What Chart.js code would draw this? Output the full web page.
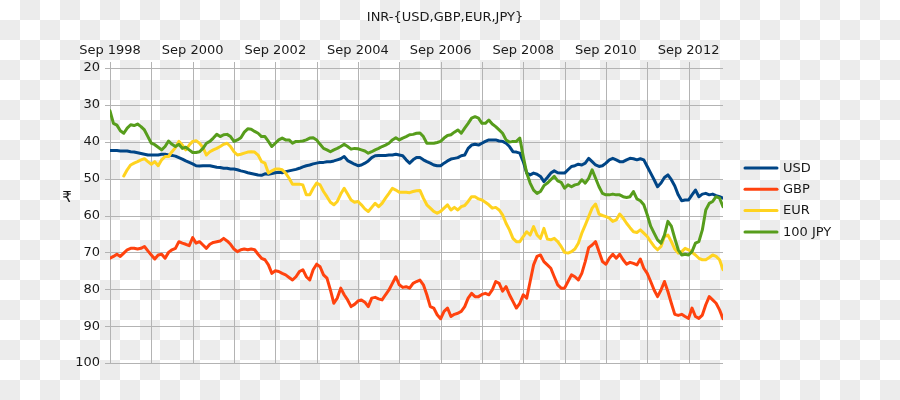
<!DOCTYPE html>
<html><head><meta charset="utf-8">
<script src="https://cdn.jsdelivr.net/npm/chart.js@4"></script>
<style>
html,body{margin:0;padding:0;background:#fff;}
canvas{display:block;}
</style></head><body>
<canvas id="c" width="900" height="400"></canvas>
<script>
const chartTitle = 'INR-{USD,GBP,EUR,JPY}';
const yAxisTitle = '₹';
const seriesNames = ['USD', 'GBP', 'EUR', '100 JPY'];
const seriesColors = ['#004586', '#ff420e', '#ffd320', '#579d1c'];
// x positions are months counted from Sep 1998
const xTickMonths = [0, 12, 24, 36, 48, 60, 72, 84, 96, 108, 120, 132, 144, 156, 168];
const xTickLabels = ['Sep 1998', '', 'Sep 2000', '', 'Sep 2002', '', 'Sep 2004', '', 'Sep 2006', '', 'Sep 2008', '', 'Sep 2010', '', 'Sep 2012'];
const yTicks = [20, 30, 40, 50, 60, 70, 80, 90, 100];

const usd = [
42.4,42.4,42.4,42.5,42.5, 42.5,42.7,42.8,43,43.2, 43.4,43.6,43.6,43.6,43.6, 43.4,43.4,43.6,43.7,43.9,
44.3,44.7,45.2,45.6,46, 46.5,46.6,46.5,46.5,46.5, 46.7,46.9,47,47.2,47.2, 47.4,47.4,47.6,47.9,48.1,
48.4,48.6,48.8,49,49.1, 48.7,48.8,48.6,48.4,48.3, 48.4,48.1,47.9,47.7,47.5, 47.2,46.8,46.5,46.3,46,
45.8,45.6,45.6,45.4,45.4, 45.2,44.9,44.6,44,45.1, 45.6,46.1,46.5,46.3,45.8, 45.2,44.3,43.8,43.7,43.7,
43.7,43.6,43.6,43.4,43.6, 43.8,44.9,45.8,44.9,44.3, 44.3,44.9,45.4,45.8,46.3, 46.5,46.5,45.8,45.2,44.7,
44.5,44.3,43.8,43.6,41.8, 40.9,40.7,40.9,40.4,39.9, 39.5,39.5,39.5,39.8,39.9, 40.4,41.3,42.7,42.8,43.1,
45.4,48.5,49,48.5,48.8, 49.4,50.8,49.7,48.5,47.9, 48.4,48.5,48.5,47.6,46.7, 46.5,46.1,46.3,45.8,44.5,
45.4,46.3,46.7,46.5,45.8, 44.9,44.5,44.9,45.4,45.4, 44.9,44.5,44.6,44.9,44.6, 44.9,46.7,48.5,50.3,52.2,
51.2,49.7,49,50.3,52, 54.4,56,55.8,55.8,54.4, 53.1,54.9,54.2,54,54.4, 54.2,54.6,54.9,55.3
];
const gbp = [
71.6,71.1,70.5,71.1,70.2, 69.3,68.9,68.9,69.1,68.9, 68.4,69.6,70.7,71.8,70.7, 70.5,71.6,70,69.3,68.9,
67.1,67.5,67.8,68.2,66, 67.5,67.1,68,68.9,67.8, 67.3,67.1,66.9,66.2,66.9, 67.8,69.1,69.8,69.3,69.1,
69.3,69.1,69.3,70.5,71.6, 72,73.4,75.7,75,75.2, 75.7,76.1,76.8,77.5,76.6, 75.2,74.7,76.6,77.5,74.7,
73.2,73.9,76.1,77,80.2, 83.8,82.4,79.7,81.5,82.9, 84.7,84.1,83.2,82.9,83.5, 84.7,82.4,82.2,82.6,82.9,
81.5,80.2,78.4,76.6,78.8, 79.5,79.3,79.7,78.4,77.9, 77.5,78.8,81.5,84.7,85.1, 86.9,88,86,85.1,87.4,
86.8,86.5,86,84.7,82.4, 81.1,82,82,81.4,81.1, 81.5,80.2,77.9,78.4,80.5, 79.3,81.5,83.3,85.1,83.8,
81.5,82.4,77.9,73.4,71.1, 70.7,72.5,73.4,74.3,76.6, 78.8,79.7,79.7,77.9,76.1, 76.6,77.5,75.7,72.5,68.7,
68,67.1,69.8,72.5,73.2, 71.6,70.5,71.6,70.5,72, 73.2,72.7,73,73.4,71.8, 74.3,75.7,77.9,80.2,82,
80.2,77.9,80.6,83.8,86.8, 87.1,86.8,87.4,87.9,85.1, 87.4,87.9,87,84.2,82, 82.9,83.8,85.6,88
];
const eur = [
null,null,null,null,49.3, 47.6,46.3,45.8,45.4,44.9, 44.6,45.4,46.1,45.4,46.5, 44.9,44,44,42.7,41.6,
39.9,40.9,42.2,40.9,39.9, 39.7,40.4,41.6,43.6,42.7, 42.2,41.8,41.3,40.7,40.4, 41.3,42.7,43.6,43.4,43.1,
42.8,42.7,42.8,43.6,45.4, 45.8,48.5,47.9,47.4,47.4, 47.6,48.5,49.9,51.5,51.5, 51.5,51.7,54.4,54.4,52.6,
51.2,51.7,53.5,54.9,56.4, 57.1,56.2,54.2,52.6,54.2, 55.8,56.4,56.2,57.1,58.2, 58.9,57.8,56.7,57.6,56.7,
55.3,54,52.6,53.1,53.7, 53.7,53.7,53.8,53.5,53.3, 53.2,55.3,57.1,58,58.9, 59.4,58.9,58,57.1,58.5,
57.8,58.5,57.6,57.3,56.2, 54.9,54.9,55.5,55.8,56.4, 57.1,58,57.8,58.5,59.8, 62.1,63.9,66.2,67.1,67.1,
65.7,64.4,65.3,63,65.3, 66.2,63.5,66.4,66.6,66.2, 67.1,68.4,70,70.2,69.8, 69.1,67.5,64.8,62.6,60.3,
58,56.9,59.6,60,60.3, 60.7,61.6,61.2,59.6,60.7, 62.1,63.3,64.4,64.6,63.9, 64.8,65.7,67.1,68.4,69.3,
68.4,65.7,65.3,67.1,69.1, 70.2,69.8,68.9,69.3,70, 70.7,71.6,72,72,71.4, 70.7,71.1,72,74.7
];
const jpy = [
31.6,35,35.5,37,37.7, 36.3,35.4,35.6,35.2,35.9, 36.8,38.6,40.4,40.8,41.5, 42.2,41.3,39.8,40.7,41.3,
40.7,41.8,41.5,42.2,42.9, 42.9,42.7,41.8,40.4,39.9, 39,38,38.6,38.1,38, 38.6,39.9,39.5,38.9,37.4,
36.5,36.6,37.2,37.7,38.6, 38.6,39.9,41.3,40.4,39.5, 39,39.5,39.5,40.4,39.9, 39.9,39.8,39.5,39,38.9,
39.5,40.7,41.8,42.2,42.7, 42.2,41.8,41.3,40.7,41.3, 42,41.8,41.9,42.2,42.5, 43.1,42.7,42.2,41.8,41.3,
40.9,40.4,39.5,38.9,39.5, 39,38.6,38.1,38,37.7, 37.6,38.6,40.4,40.4,40.4, 40.2,39.9,39,38.3,38.1,
37.4,36.8,37.7,36.3,35, 33.6,33.2,33.6,35,35, 34.1,35.2,35.9,36.8,37.7, 39.5,40.1,39.9,39.9,39,
44,48.5,51.2,53.1,54, 53.5,51.9,51.2,50.3,49.4, 50.6,51,52.6,51.7,52.2, 51.7,51.5,50.3,51.2,49.9,
47.6,49.9,52.2,54,54.4, 54.4,54.2,54.4,54.4,54.9, 55.1,54.9,53.5,55.5,56, 57.1,59.8,62.9,64.8,66.6,
67.5,65.3,61.6,62.9,66.2, 69.3,70.7,70.5,70.7,69.8, 67.5,67.1,63.9,58.5,56.7, 56.2,54.9,55.3,57.6
];
const seriesValues = [usd, gbp, eur, jpy];
const drawOrder = [3, 2, 1, 0];

const FONT = '"DejaVu Sans", sans-serif';
const TEXT = '#1a1a1a';
const GRID = '#b3b3b3';
const CHECKER = '#ececec';

// texts, legend, then grid + checkerboard slid underneath everything already drawn
const extras = {
  id: 'extras',
  afterDraw(chart) {
    const ctx = chart.ctx, a = chart.chartArea;
    const xs = chart.scales.x, ys = chart.scales.y;
    ctx.save();
    ctx.globalAlpha = 1;
    ctx.setLineDash([]);
    ctx.fillStyle = TEXT;
    ctx.font = '13px ' + FONT;
    ctx.textAlign = 'center';
    ctx.textBaseline = 'middle';
    ctx.fillText(chartTitle, 445, 18);
    ctx.font = '15px ' + FONT;
    ctx.fillText(yAxisTitle, 67, 198);
    ctx.font = '13px ' + FONT;
    ctx.textAlign = 'left';
    chart.data.datasets.forEach((ds, i) => {
      const y = 168 + i * 21.3;
      ctx.strokeStyle = ds.borderColor;
      ctx.lineWidth = 3;
      ctx.lineCap = 'round';
      ctx.beginPath();
      ctx.moveTo(745, y);
      ctx.lineTo(777, y);
      ctx.stroke();
      ctx.fillText(ds.label, 783, y + 0.5);
    });

    ctx.globalCompositeOperation = 'destination-over';
    ctx.lineCap = 'butt';
    ctx.strokeStyle = GRID;
    ctx.lineWidth = 1;
    xTickMonths.forEach(m => {
      const px = Math.round(xs.getPixelForValue(m)) + 0.5;
      ctx.beginPath();
      ctx.moveTo(px, a.top - 6);
      ctx.lineTo(px, a.bottom);
      ctx.stroke();
    });
    yTicks.forEach(v => {
      const py = Math.round(ys.getPixelForValue(v)) + 0.5;
      ctx.beginPath();
      ctx.moveTo(a.left - 5, py);
      ctx.lineTo(a.right, py);
      ctx.stroke();
    });
    ctx.fillStyle = CHECKER;
    for (let r = 0; r * 20 < chart.height; r++) {
      for (let c = 0; c * 20 < chart.width; c++) {
        if ((r + c) % 2 === 1) ctx.fillRect(c * 20, r * 20, 20, 20);
      }
    }
    ctx.fillStyle = '#ffffff';
    ctx.fillRect(0, 0, chart.width, chart.height);
    ctx.restore();
  }
};

new Chart(document.getElementById('c'), {
  type: 'line',
  data: {
    datasets: seriesNames.map((name, k) => ({
      label: name,
      data: seriesValues[k].map((v, i) => ({ x: i, y: v })),
      borderColor: seriesColors[k],
      backgroundColor: seriesColors[k],
      order: drawOrder[k],
      spanGaps: false
    }))
  },
  options: {
    responsive: false,
    animation: false,
    layout: { padding: { left: 0, right: 177, top: 0, bottom: 37 } },
    plugins: { legend: { display: false }, title: { display: false }, tooltip: { enabled: false } },
    elements: {
      point: { radius: 0 },
      line: { borderWidth: 3, tension: 0, borderJoinStyle: 'round', borderCapStyle: 'round' }
    },
    scales: {
      x: {
        type: 'linear', position: 'top', min: 0, max: 178,
        afterBuildTicks: s => { s.ticks = xTickMonths.map(v => ({ value: v })); },
        afterFit: s => { s.height = 68; },
        ticks: { autoSkip: false, maxRotation: 0, padding: 4, color: TEXT, font: { family: FONT, size: 13 },
                 callback: (v, i) => xTickLabels[i] },
        grid: { display: false, tickLength: 6 },
        border: { display: false }
      },
      y: {
        reverse: true, min: 20, max: 100,
        afterBuildTicks: s => { s.ticks = yTicks.map(v => ({ value: v })); },
        afterFit: s => { s.width = 110; },
        ticks: { padding: 5, color: TEXT, font: { family: FONT, size: 13 } },
        grid: { display: false, tickLength: 5 },
        border: { display: false }
      }
    }
  },
  plugins: [extras]
});
</script>
</body></html>
